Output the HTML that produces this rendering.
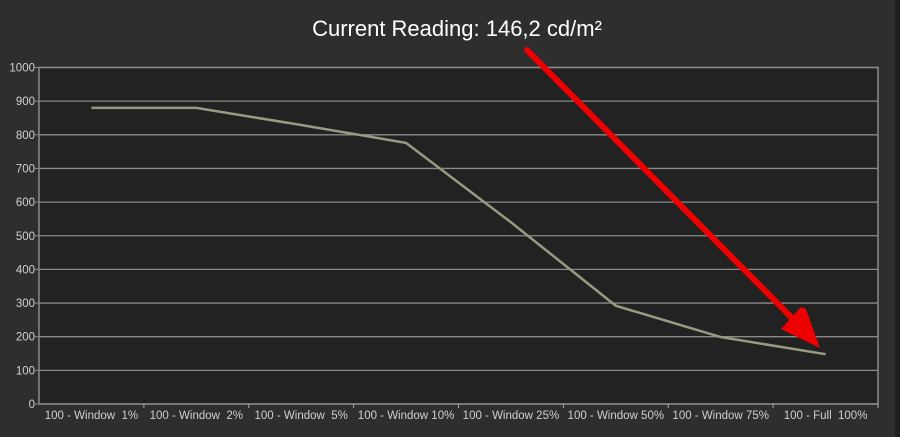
<!DOCTYPE html>
<html><head><meta charset="utf-8"><style>
html,body{margin:0;padding:0;background:#2e2e2e;}
svg{display:block;font-family:"Liberation Sans",sans-serif;}
text{white-space:pre;}
</style></head><body>
<svg id="chart" width="900" height="437">
<rect x="0" y="0" width="900" height="437" fill="#2e2e2e"/>
<rect x="895" y="0" width="5" height="437" fill="#1e1e1e"/>
<text x="457" y="36" text-anchor="middle" font-size="22" fill="#ffffff">Current Reading: 146,2 cd/m²</text>
<g id="plot"></g>
</svg>
<script>
const categories=["100 - Window  1%","100 - Window  2%","100 - Window  5%","100 - Window 10%","100 - Window 25%","100 - Window 50%","100 - Window 75%","100 - Full  100%"];
const values=[880,880,829,776,540,292,199,148];
const yTicks=[0,100,200,300,400,500,600,700,800,900,1000];
const L=39,R=878,T=67.5,B=404,yMax=1000;
const cw=(R-L)/categories.length;
const xs=i=>L+cw*(i+0.5);
const ys=v=>B-(v/yMax)*(B-T);
const NS="http://www.w3.org/2000/svg";
const g=document.getElementById('plot');
function mk(t,a){const e=document.createElementNS(NS,t);for(const k in a)e.setAttribute(k,a[k]);g.appendChild(e);return e;}
const bg=mk('rect',{x:L,y:T,width:R-L,height:B-T,fill:'#222222',stroke:'#8a8a8a','stroke-width':1.5});


yTicks.forEach(v=>{
  const y=ys(v);
  const ln=mk('line',{x1:L,x2:R,y1:y,y2:y,stroke:'#8a8a8a','stroke-width':1.3});
  
  
  const tk=mk('line',{x1:L-4,x2:L,y1:y,y2:y,stroke:'#8a8a8a','stroke-width':1});
  
  
  const tx=mk('text',{x:L-4,y:y+4,'text-anchor':'end','font-size':11.5,fill:'#d0d0d0'});
  tx.textContent=v;
  
  
});
categories.forEach((c,i)=>{
  const x=L+cw*(i+1);
  const tk=mk('line',{x1:x,x2:x,y1:B,y2:B+4,stroke:'#aaaaaa','stroke-width':1});
  
  
  const tx=mk('text',{x:xs(i),y:B+15,'text-anchor':'middle','font-size':11.5,fill:'#d0d0d0'});
  tx.textContent=c;
  
  
});
const pts=values.map((v,i)=>xs(i)+','+ys(v)).join(' ');
const line=mk('polyline',{points:pts,fill:'none',stroke:'#9a9a80','stroke-width':2.5,'stroke-linejoin':'miter'});


const arr=mk('line',{x1:527,y1:50,x2:796,y2:322,stroke:'#ee0000','stroke-width':6,'stroke-linecap':'round'});


const head=mk('polygon',{points:'820,348 781,329 801,307 806,309',fill:'#ee0000'});


</script>
</body></html>
